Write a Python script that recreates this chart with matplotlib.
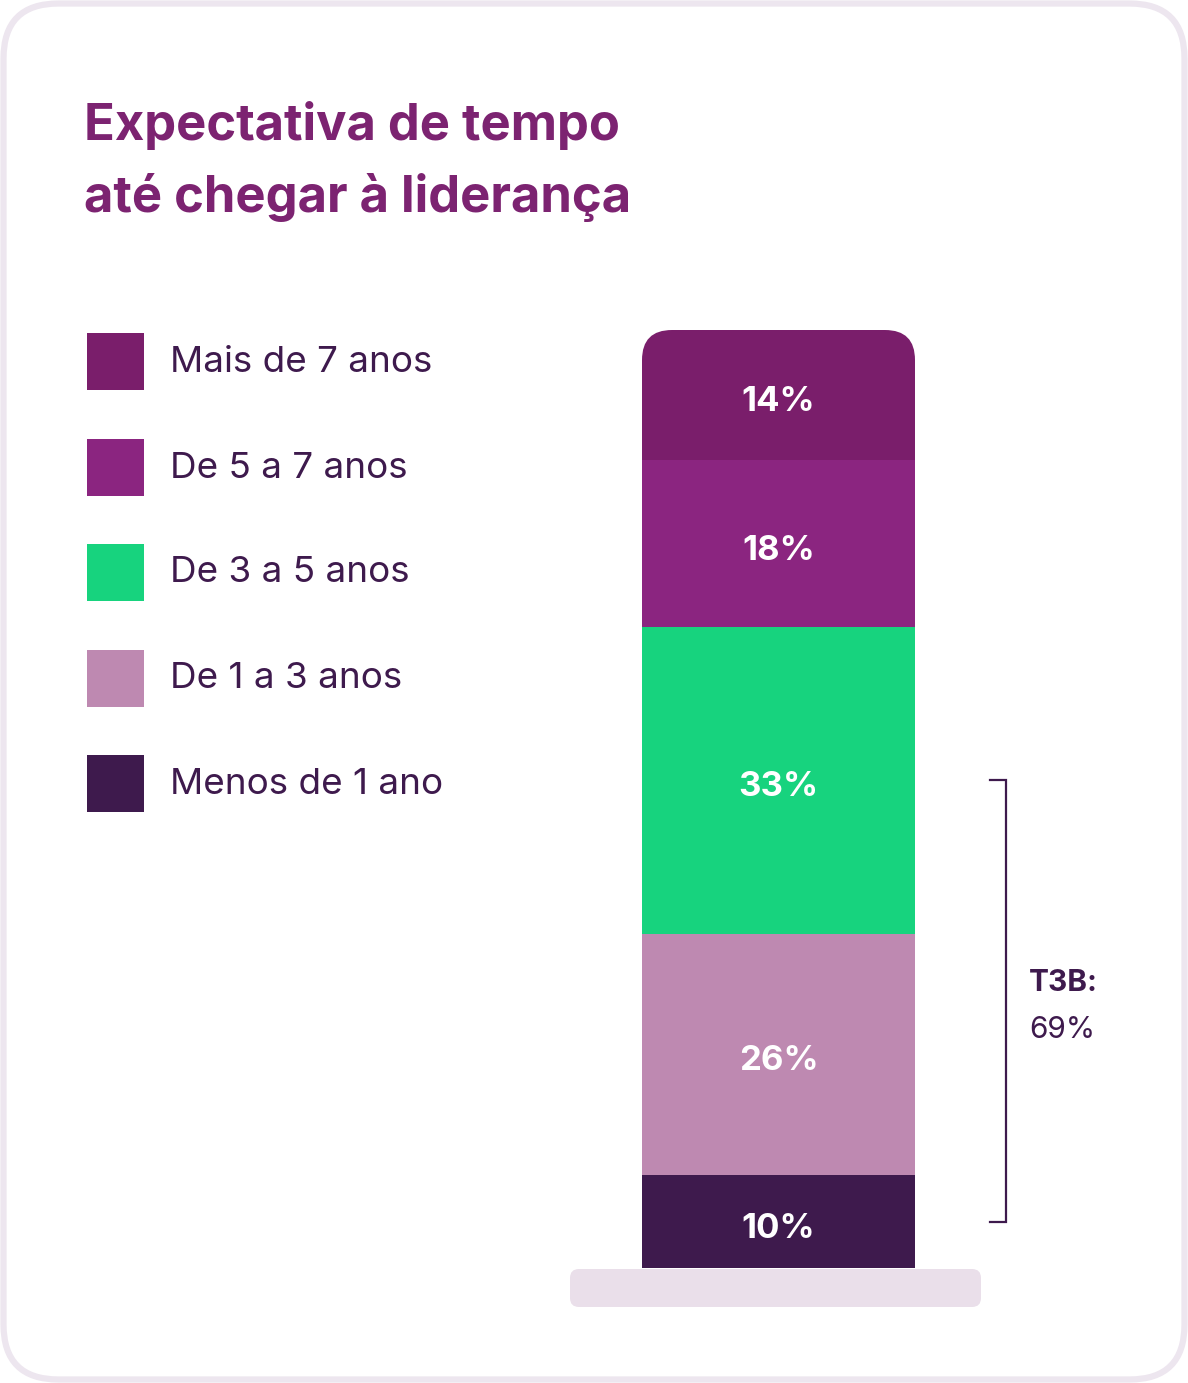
import matplotlib
matplotlib.use("Agg")
import matplotlib.pyplot as plt
from matplotlib.patches import FancyBboxPatch, Rectangle
import matplotlib.transforms as mtransforms

plt.rcParams['font.family'] = ['Inter', 'DejaVu Sans']

# data, bottom to top
categories = ["Menos de 1 ano", "De 1 a 3 anos", "De 3 a 5 anos",
              "De 5 a 7 anos", "Mais de 7 anos"]
values = [10, 26, 33, 18, 14]
colors = ["#3e1a4d", "#be89b1", "#17d37e", "#8b2580", "#7a1e6b"]
t3b_label = "T3B:"
t3b_value = "69%"
title_lines = ["Expectativa de tempo", "até chegar à liderança"]

W, H = 1188, 1383
DPI = 100
fig = plt.figure(figsize=(W / DPI, H / DPI), dpi=DPI)
fig.patch.set_facecolor("white")

# background axes in pixel coordinates
bg = fig.add_axes([0, 0, 1, 1])
bg.set_xlim(0, W)
bg.set_ylim(H, 0)
bg.axis("off")

card = FancyBboxPatch((3.5, 3.5), W - 7, H - 7,
                      boxstyle="round,pad=0,rounding_size=55",
                      facecolor="white", edgecolor="#ede6ef", linewidth=4.5)
bg.add_patch(card)

for yy, line in zip([126, 198], title_lines):
    bg.text(84, yy, line, color="#7c2371", fontsize=36.5, fontweight="bold",
            va="center", ha="left")

# legend (top to bottom)
leg_y = [361, 467, 572, 678, 783]
for yy, lab, col in zip(leg_y, categories[::-1], colors[::-1]):
    bg.add_patch(Rectangle((87, yy - 28.5), 57, 57, facecolor=col, edgecolor="none"))
    bg.text(170, yy + 1, lab, color="#3e1a4d", fontsize=26.5, va="center", ha="left")

# base plate
bg.add_patch(FancyBboxPatch((570, 1269), 411, 38,
                            boxstyle="round,pad=0,rounding_size=9",
                            facecolor="#eadfea", edgecolor="none"))

# bar axes
total = sum(values)
bar_bottom_px, bar_top_px = 1268, 330
bx0, bx1 = 642, 915
ax = fig.add_axes([bx0 / W, (H - bar_bottom_px) / H,
                   (bx1 - bx0) / W, (bar_bottom_px - bar_top_px) / H])
ax.set_xlim(-0.5, 0.5)
ax.set_ylim(0, total)
ax.axis("off")

clip = FancyBboxPatch((bx0, bar_top_px), bx1 - bx0, 1200,
                      boxstyle="round,pad=0,rounding_size=30",
                      transform=bg.transData, facecolor="none", edgecolor="none")

label_tr = mtransforms.offset_copy(ax.transData, fig=fig, x=0, y=-7, units="dots")
bottom = 0
mids = []
for v, col in zip(values, colors):
    bars = ax.bar(0, v, bottom=bottom, width=1.0, color=col, linewidth=0)
    for b in bars:
        b.set_clip_path(clip)
    mids.append(bottom + v / 2)
    ax.text(0, bottom + v / 2, f"{v}%", color="white", fontsize=25,
            fontweight="bold", ha="center", va="center", transform=label_tr)
    bottom += v

# bracket from middle of lowest segment to middle of third
trans = mtransforms.blended_transform_factory(ax.transAxes, ax.transData)
xb = (1006 - bx0) / (bx1 - bx0)
xt = (990 - bx0) / (bx1 - bx0)
ax.plot([xt, xb, xb, xt], [mids[0], mids[0], mids[2], mids[2]],
        color="#3e1a4d", linewidth=1.6, transform=trans, clip_on=False,
        solid_joinstyle="miter")

bg.text(1029, 983, t3b_label, color="#3e1a4d", fontsize=21.5, fontweight="bold",
        va="center", ha="left")
bg.text(1029, 1030, t3b_value, color="#3e1a4d", fontsize=21.5,
        va="center", ha="left")

fig.savefig("out.png", dpi=DPI, facecolor="white")
